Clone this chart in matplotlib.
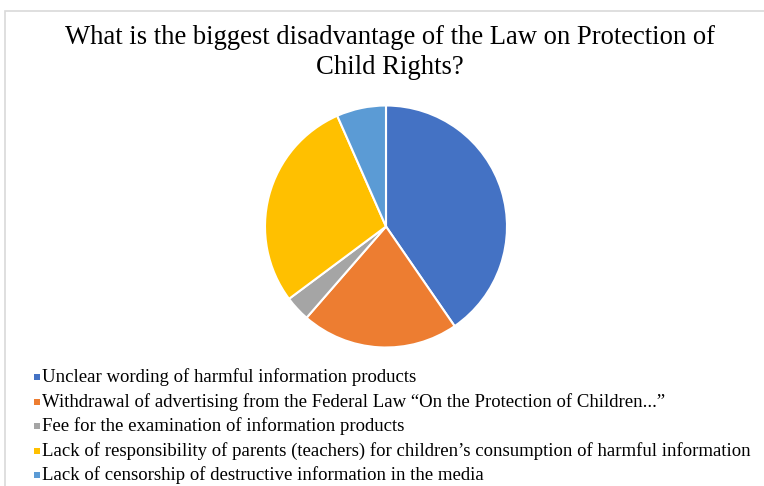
import matplotlib.pyplot as plt
from matplotlib.patches import Rectangle

# === Data ===
labels = [
    "Unclear wording of harmful information products",
    "Withdrawal of advertising from the Federal Law \u201cOn the Protection of Children...\u201d",
    "Fee for the examination of information products",
    "Lack of responsibility of parents (teachers) for children\u2019s consumption of harmful information",
    "Lack of censorship of destructive information in the media",
]
shares = [40.4, 21.0, 3.4, 28.6, 6.6]
colors = ["#4472C4", "#ED7D31", "#A5A5A5", "#FFC000", "#5B9BD5"]
title_lines = ["What is the biggest disadvantage of the Law on Protection of",
               "Child Rights?"]

plt.rcParams['font.family'] = ['Liberation Serif', 'DejaVu Serif']

W, H = 764, 486
fig = plt.figure(figsize=(W / 100, H / 100), dpi=100)

# outer chart border (cropped on right/bottom)
fig.patches.append(Rectangle((5 / W, -0.1), 1.2, 1 - 10.5 / H + 0.1,
                             transform=fig.transFigure, fill=False,
                             edgecolor="#D9D9D9", linewidth=1.2))

# pie axes: center (386, 226.5), radius ~121 px
r = 121
cx, cy = 386, 226.5
ax = fig.add_axes([(cx - r) / W, 1 - (cy + r) / H, 2 * r / W, 2 * r / H])
wedges, _ = ax.pie(shares, colors=colors, startangle=90, counterclock=False,
                   wedgeprops=dict(edgecolor="white", linewidth=1.5))
ax.set_aspect("equal")
ax.set_xlim(-1, 1)
ax.set_ylim(-1, 1)
ax.axis("off")

# title, two lines
for y, line in zip([38, 68], title_lines):
    fig.text(390 / W, 1 - y / H, line, ha="center", va="center", fontsize=19.2)

# legend, one row per item
row_y = [377, 402, 426, 451, 475]
for y, lab, col in zip(row_y, labels, colors):
    fig.patches.append(Rectangle((33.5 / W, 1 - (y + 3) / H), 6 / W, 6 / H,
                                 transform=fig.transFigure, facecolor=col,
                                 edgecolor="none"))
    fig.text(42 / W, 1 - y / H, lab, ha="left", va="center", fontsize=13.5)

fig.savefig("out.png", dpi=100, facecolor="white")
